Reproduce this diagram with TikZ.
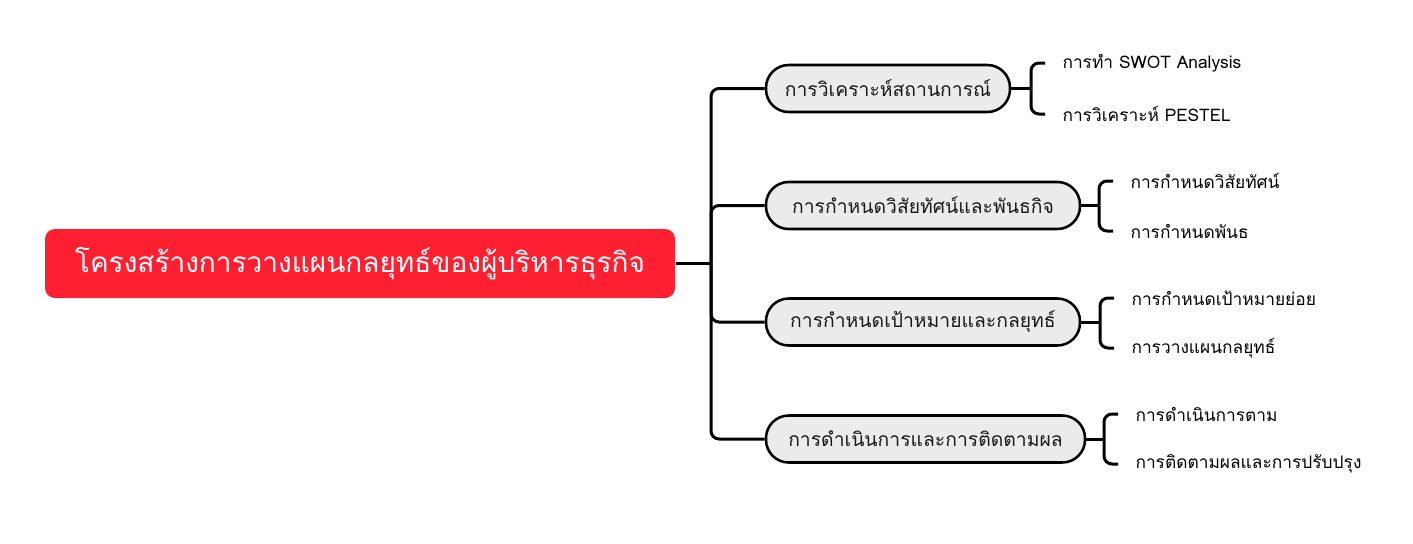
\documentclass[tikz,border=0pt]{standalone}
\usepackage{fontspec}
\setmainfont{Loma}[Script=Thai]
\usetikzlibrary{positioning}
\definecolor{rootred}{RGB}{254,31,49}
\definecolor{topicgrey}{RGB}{235,235,235}
\tikzset{every picture/.style={line width=0.75pt}}
\tikzset{
  rootbox/.style={rectangle, rounded corners=7.5pt, fill=rootred, text=white, minimum width=472.5pt, minimum height=51.75pt, font=\fontsize{21}{25}\selectfont},
  topicbox/.style={rectangle, rounded corners=17pt, draw=black, line width=1.9pt, fill=topicgrey, minimum height=35.25pt, text=black!90, font=\fontsize{14.5}{17}\selectfont},
  leaftext/.style={anchor=west, inner xsep=12.75pt, inner ysep=1pt, font=\fontsize{13}{15}\selectfont},
  branch/.style={line width=2.25pt, rounded corners=6pt},
}

\begin{document}
\begin{tikzpicture}[x=0.75pt,y=0.75pt,yscale=-1,xscale=1]
\useasboundingbox (0,0) rectangle (1413,543); %set diagram to 1413 x 543

% Root Node
\node [rootbox] (root) at (360,263.5) {โครงสร้างการวางแผนกลยุทธ์ของผู้บริหารธุรกิจ};
\coordinate (tr) at (711,263.5);

% Topic Nodes
\node [topicbox, minimum width=183pt] (sit) at (888,88.5) {การวิเคราะห์สถานการณ์};
\node [topicbox, minimum width=235.5pt] (vis) at (923,205.5) {การกำหนดวิสัยทัศน์และพันธกิจ};
\node [topicbox, minimum width=235.5pt] (goal) at (923,322) {การกำหนดเป้าหมายและกลยุทธ์};
\node [topicbox, minimum width=239.25pt] (act) at (925.5,439) {การดำเนินการและการติดตามผล};

% Text Node
\node [leaftext] (swot) at (1045,63) {การทำ SWOT Analysis};
\node [leaftext] (pest) at (1045,114) {การวิเคราะห์ PESTEL};
\node [leaftext] (visn) at (1113,181) {การกำหนดวิสัยทัศน์};
\node [leaftext] (miss) at (1113,231) {การกำหนดพันธ};
\node [leaftext] (subg) at (1114,298) {การกำหนดเป้าหมายย่อย};
\node [leaftext] (plan) at (1114,348) {การวางแผนกลยุทธ์};
\node [leaftext] (run) at (1118,414) {การดำเนินการตาม};
\node [leaftext] (track) at (1118,464) {การติดตามผลและการปรับปรุง};

% Bracket Points
\coordinate (bsit) at (1031,88.5);
\coordinate (bvis) at (1099,205.5);
\coordinate (bgoal) at (1100,322);
\coordinate (bact) at (1104,439);

%Straight Lines
\draw [branch] (root.east) -- (tr);
\draw [branch] (tr) |- (sit.west);
\draw [branch] (tr) |- (vis.west);
\draw [branch] (tr) |- (goal.west);
\draw [branch] (tr) |- (act.west);

%Straight Lines
\draw [branch] (sit.east) -- (bsit);
\draw [branch] (bsit) |- (swot.west);
\draw [branch] (bsit) |- (pest.west);
\draw [branch] (vis.east) -- (bvis);
\draw [branch] (bvis) |- (visn.west);
\draw [branch] (bvis) |- (miss.west);
\draw [branch] (goal.east) -- (bgoal);
\draw [branch] (bgoal) |- (subg.west);
\draw [branch] (bgoal) |- (plan.west);
\draw [branch] (act.east) -- (bact);
\draw [branch] (bact) |- (run.west);
\draw [branch] (bact) |- (track.west);

\end{tikzpicture}
\end{document}
